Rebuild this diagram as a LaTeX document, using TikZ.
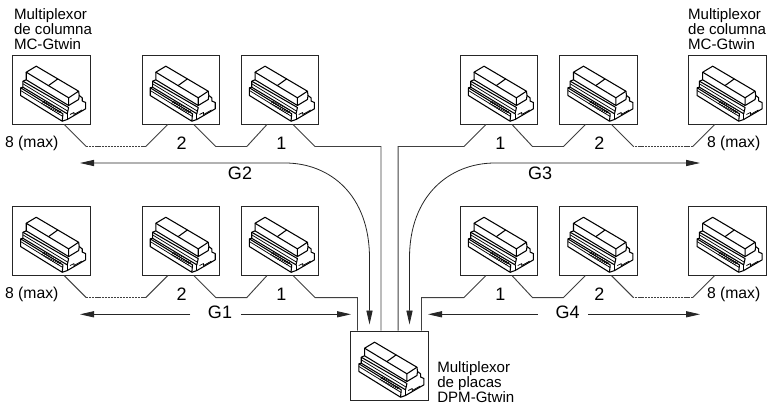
\documentclass[tikz,border=0pt]{standalone}
\usepackage{fontspec}
\setmainfont{Liberation Sans}
\usetikzlibrary{arrows.meta,positioning,calc}
\def\portx{9.75pt}
\begin{document}
\begin{tikzpicture}[x=0.75pt,y=-0.75pt,
    box/.style={rectangle,draw=black!85,line width=0.7pt,minimum width=58.2pt,minimum height=51.8pt,inner sep=0pt},
    wire/.style={draw=black!75,line width=0.7pt},
    flow/.style={draw=black!85,line width=0.6pt,{Stealth[length=10.5pt,width=4.6pt,inset=0pt]}-{Stealth[length=10.5pt,width=4.6pt,inset=0pt]}},
    oneway/.style={draw=black!85,line width=0.6pt,-{Stealth[length=10.5pt,width=4.6pt,inset=0pt]}},
    txt/.style={font=\fontsize{11.8}{11.3}\selectfont,inner sep=0pt,align=left},
    caption/.style={font=\fontsize{11.3}{11.3}\selectfont,inner sep=0pt,align=left},
    num/.style={font=\fontsize{13.5}{13.5}\selectfont,inner sep=0pt},
    device/.pic={
        \begin{scope}[line width=0.8pt,line join=round,draw=black]
        \draw (14.3,17.7)--(24.3,11.7)--(66.7,36.7)--(56.7,43.3)--cycle;
        \draw (36.7,31)--(46,24.3);
        \draw (14.3,17.7)--(14.3,25.3)--(56.7,51)--(56.7,43.3);
        \draw (66.7,36.7)--(67.3,41)--(70.3,43.3)--(70.3,46.5)--(73.7,48)--(73.7,54.3)--(55.3,65)--(50.3,66.7);
        \draw (14.3,25.3)--(11,26.7)--(11,32.7)--(8.7,33.3)--(8.7,41)--(50.3,66.7)--(51,59.3)--(8.7,33.3);
        \draw (11,26.7)--(56.7,53)--(55.3,59.3)--(11,32.7);
        \draw[line width=0.55pt] (11,29.3)--(56,56.7);
        \draw[line width=0.55pt] (8.7,36)--(51,62);
        \draw (55.3,59.3)--(55.3,65);
        \draw (56.7,51)--(66.7,45)--(67.3,41);
        \draw[line width=0.55pt] (58,60)--(62,58)--(62,60)--(70,55.5);
        \foreach \k in {0,...,9} {\draw[line width=0.5pt] ({33+1.8*\k},{46.5+1.1*\k})--({29.5+1.8*\k},{49.5+1.1*\k});}
        \end{scope}}]
    \useasboundingbox (0,0) rectangle (767,414);
    % boxes, upper left group
    \node[box] (gtwoa) at (51.2,89.5) {};
    \node[box,right=38.3pt of gtwoa] (gtwob) {};
    \node[box,right=15.5pt of gtwob] (gtwoc) {};
    % boxes, upper right group
    \node[box] (gthreec) at (499,89.5) {};
    \node[box,right=15.7pt of gthreec] (gthreeb) {};
    \node[box,right=38pt of gthreeb] (gthreea) {};
    % boxes, lower rows
    \node[box,below=60.8pt of gtwoa] (goa) {};
    \node[box,below=60.8pt of gtwob] (gob) {};
    \node[box,below=60.8pt of gtwoc] (goc) {};
    \node[box,below=60.8pt of gthreec] (gfc) {};
    \node[box,below=60.8pt of gthreeb] (gfb) {};
    \node[box,below=60.8pt of gthreea] (gfa) {};
    \node[box] (dpm) at (389.5,365.5) {};
    \foreach \n in {gtwoa,gtwob,gtwoc,gthreec,gthreeb,gthreea,goa,gob,goc,gfc,gfb,gfa,dpm}
        \pic at (\n.north west) {device};
    % captions
    \node[caption,anchor=south west] (capl) at ([xshift=1.4pt,yshift=3.5pt]gtwoa.north west) {Multiplexor\\de columna\\MC-Gtwin};
    \node[caption,anchor=south west] (capr) at ([xshift=-0.4pt,yshift=3.5pt]gthreea.north west) {Multiplexor\\de columna\\MC-Gtwin};
    \node[caption,anchor=west] (capd) at (437,382.5) {Multiplexor\\de placas\\DPM-Gtwin};
    % numbers
    \node[txt] (ntwoa) at ([xshift=-14.6pt,yshift=-14.2pt]gtwoa.south) {8 (max)};
    \node[num] (ntwob) at ([xshift=0.6pt,yshift=-14.2pt]gtwob.south) {2};
    \node[num] (ntwoc) at ([xshift=1pt,yshift=-14.2pt]gtwoc.south) {1};
    \node[num] (nthreec) at ([xshift=1pt,yshift=-14.2pt]gthreec.south) {1};
    \node[num] (nthreeb) at ([xshift=0.6pt,yshift=-14.2pt]gthreeb.south) {2};
    \node[txt] (nthreea) at ([xshift=4.5pt,yshift=-14.2pt]gthreea.south) {8 (max)};
    \node[txt] (noa) at ([xshift=-14.6pt,yshift=-14.2pt]goa.south) {8 (max)};
    \node[num] (nob) at ([xshift=0.6pt,yshift=-14.2pt]gob.south) {2};
    \node[num] (noc) at ([xshift=1pt,yshift=-14.2pt]goc.south) {1};
    \node[num] (nfc) at ([xshift=1pt,yshift=-14.2pt]gfc.south) {1};
    \node[num] (nfb) at ([xshift=0.6pt,yshift=-14.2pt]gfb.south) {2};
    \node[txt] (nfa) at ([xshift=4.5pt,yshift=-14.2pt]gfa.south) {8 (max)};
    % group names
    \node[num] (gtwo) at (240,173.5) {G2};
    \node[num] (gthree) at (540,173.5) {G3};
    \node[num] (gone) at (220,312.7) {G1};
    \node[num] (gfour) at (567.5,312.7) {G4};
    % free ends
    \coordinate (gtwoend) at ([xshift=-15pt,yshift=4.5pt]dpm.north);
    \coordinate (gthreeend) at ([xshift=15pt,yshift=4.5pt]dpm.north);
    \coordinate (gtwotip) at (80,163);
    \coordinate (gthreetip) at (700,163);
    \coordinate (gonetip) at (80,314.3);
    \coordinate (gfourtip) at (700,314.3);
    \coordinate (goneend) at (351,314.3);
    \coordinate (gfourend) at (428,314.3);
    % wires, G2
    \draw[wire] ([xshift=\portx]gtwoa.south) -- ++(22,22) coordinate (ja);
    \draw[wire] ([xshift=-\portx]gtwob.south) -- ++(-22,22) coordinate (jb);
    \draw[wire,dash pattern=on 1.6pt off 0.7pt] (ja) -- (jb);
    \draw[wire] ([xshift=\portx]gtwob.south) -- ++(22,22) -- ++(31,0) -- ([xshift=-\portx]gtwoc.south);
    \draw[wire] ([xshift=\portx]gtwoc.south) -- ++(22,22) -| ([xshift=-6.4pt]dpm.north);
    % wires, G3
    \draw[wire] ([xshift=-\portx]gthreea.south) -- ++(-22,22) coordinate (jc);
    \draw[wire] ([xshift=\portx]gthreeb.south) -- ++(22,22) coordinate (jd);
    \draw[wire,dash pattern=on 1.6pt off 0.7pt] (jc) -- (jd);
    \draw[wire] ([xshift=-\portx]gthreeb.south) -- ++(-22,22) -- ++(-31,0) -- ([xshift=\portx]gthreec.south);
    \draw[wire] ([xshift=-\portx]gthreec.south) -- ++(-22,22) -| ([xshift=6.4pt]dpm.north);
    % wires, G1
    \draw[wire] ([xshift=\portx]goa.south) -- ++(22,22) coordinate (je);
    \draw[wire] ([xshift=-\portx]gob.south) -- ++(-22,22) coordinate (jf);
    \draw[wire,dash pattern=on 1.6pt off 0.7pt] (je) -- (jf);
    \draw[wire] ([xshift=\portx]gob.south) -- ++(22,22) -- ++(31,0) -- ([xshift=-\portx]goc.south);
    \draw[wire] ([xshift=\portx]goc.south) -- ++(22,22) -| ([xshift=-24pt]dpm.north);
    % wires, G4
    \draw[wire] ([xshift=-\portx]gfa.south) -- ++(-22,22) coordinate (jg);
    \draw[wire] ([xshift=\portx]gfb.south) -- ++(22,22) coordinate (jh);
    \draw[wire,dash pattern=on 1.6pt off 0.7pt] (jg) -- (jh);
    \draw[wire] ([xshift=-\portx]gfb.south) -- ++(-22,22) -- ++(-31,0) -- ([xshift=\portx]gfc.south);
    \draw[wire] ([xshift=-\portx]gfc.south) -- ++(-22,22) -| ([xshift=24pt]dpm.north);
    % arrows
    \draw[flow] (gtwotip) -- ++(205,0) .. controls +(45,0) and +(0,-63) .. ++(84.5,95) -- (gtwoend);
    \draw[flow] (gthreetip) -- ++(-205,0) .. controls +(-45,0) and +(0,-63) .. ++(-85.5,95) -- (gthreeend);
    \draw[oneway] ([xshift=-13pt,yshift=-1.2pt]gone.west) -- (gonetip);
    \draw[oneway] ([xshift=6.5pt,yshift=-1.2pt]gone.east) -- (goneend);
    \draw[oneway] ([xshift=-13pt,yshift=-1.2pt]gfour.west) -- (gfourend);
    \draw[oneway] ([xshift=6.5pt,yshift=-1.2pt]gfour.east) -- (gfourtip);
\end{tikzpicture}
\end{document}
